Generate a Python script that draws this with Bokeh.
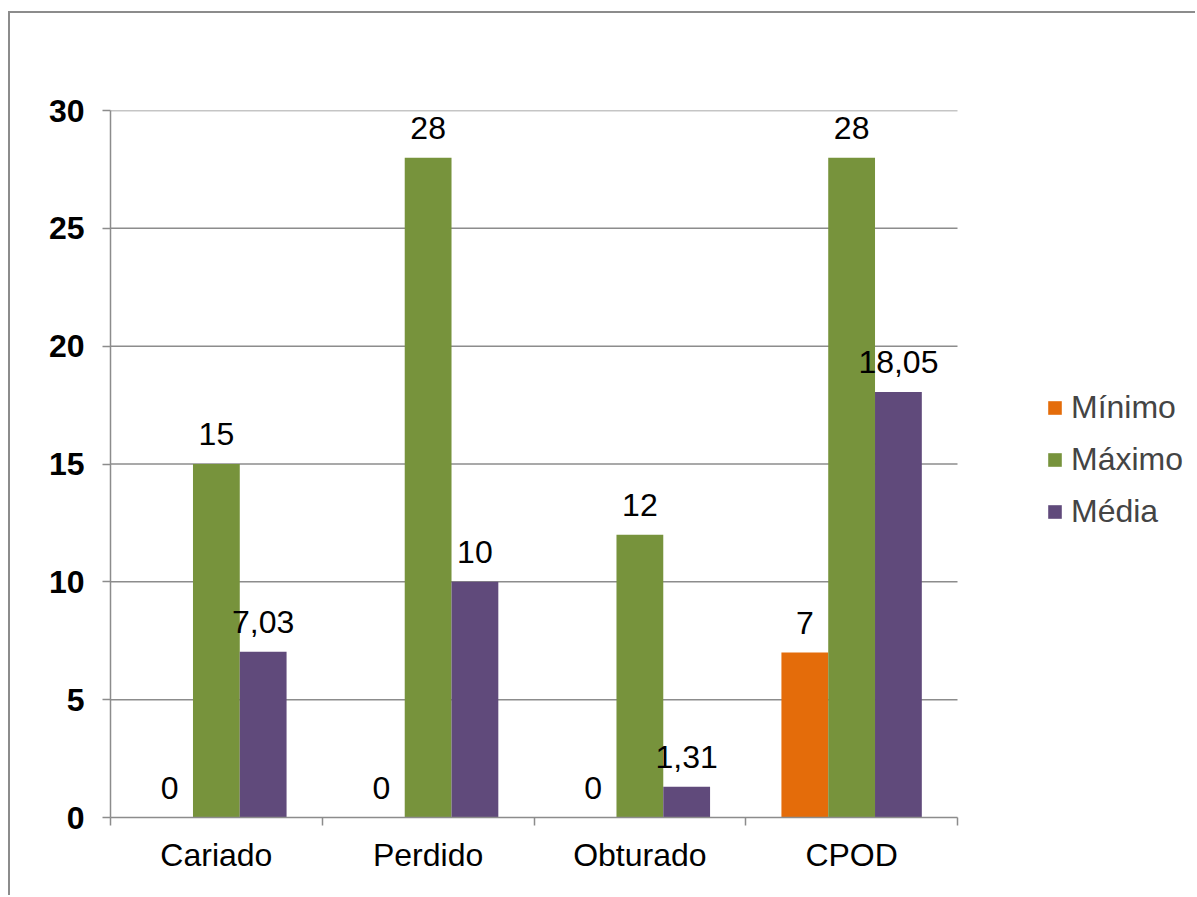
from bokeh.plotting import figure
from bokeh.models import Range1d, FixedTicker, ColumnDataSource, Legend, LegendItem
from bokeh.embed import file_html
from bokeh.resources import INLINE
from bokeh.core.properties import value

categories = ["Cariado", "Perdido", "Obturado", "CPOD"]
series_names = ["Mínimo", "Máximo", "Média"]
minimo = [0, 0, 0, 7]
maximo = [15, 28, 12, 28]
media = [7.03, 10, 1.31, 18.05]
y_ticks = [0, 5, 10, 15, 20, 25, 30]
colors = ["#E46C0A", "#77933C", "#604A7B"]

FONT = "Liberation Sans"
FS = "32px"
BAR_W = 0.221
GRID = "#8c8c8c"

# layout: the frame spans the legend area too; category area is 847 of 1087 px
W, LEFT = 1187, 100
FRAME_W = W - LEFT
N = len(categories)
x_end = N * FRAME_W / 847.0

def fmt(v):
    return f"{v:g}".replace(".", ",")

p = figure(width=W, height=884, x_range=Range1d(0, x_end),
           y_range=Range1d(0, 30), output_backend="svg", toolbar_location=None,
           min_border_left=LEFT, min_border_top=97, min_border_right=0,
           min_border_bottom=80)
p.margin = (11, 0, 0, 8)
p.styles = {"border-left": "2px solid #8c8c8c", "border-top": "2px solid #8c8c8c"}
p.outline_line_color = None
p.background_fill_color = "white"
p.border_fill_color = "white"

# horizontal gridlines limited to the category area
gy = y_ticks[1:]
p.segment(x0=[0] * len(gy), x1=[N] * len(gy), y0=gy, y1=gy,
          line_color=GRID, line_width=1.5)

renderers = []
for k, (name, vals) in enumerate(zip(series_names, [minimo, maximo, media])):
    xs = [i + 0.5 + (k - 1) * BAR_W for i in range(N)]
    src = ColumnDataSource(dict(x=xs, top=vals, label=[fmt(v) for v in vals]))
    r = p.vbar(x="x", top="top", bottom=0, width=BAR_W, source=src,
               fill_color=colors[k], line_color=None)
    renderers.append(r)
    p.text(x="x", y="top", text="label", source=src, text_align="center",
           text_baseline="alphabetic", y_offset=-30, text_font=value(FONT),
           text_font_size=FS, text_color="black")

# axes
ya = p.yaxis[0]
ya.ticker = FixedTicker(ticks=y_ticks)
ya.axis_line_color = GRID
ya.axis_line_width = 1.5
ya.major_tick_line_color = GRID
ya.major_tick_line_width = 1.5
ya.major_tick_out = 8
ya.major_tick_in = 0
ya.minor_tick_line_color = None
ya.major_label_text_font = FONT
ya.major_label_text_font_size = FS
ya.major_label_text_font_style = "bold"
ya.major_label_text_color = "black"
ya.major_label_standoff = 18

xa = p.xaxis[0]
xa.bounds = (0, N)
xa.ticker = FixedTicker(ticks=[i + 0.5 for i in range(N)],
                        minor_ticks=list(range(N + 1)))
xa.major_label_overrides = {i + 0.5: c for i, c in enumerate(categories)}
xa.axis_line_color = GRID
xa.axis_line_width = 1.5
xa.major_tick_line_color = None
xa.major_tick_out = 0
xa.major_tick_in = 0
xa.minor_tick_line_color = GRID
xa.minor_tick_line_width = 1.5
xa.minor_tick_out = 8
xa.minor_tick_in = 0
xa.major_label_text_font = FONT
xa.major_label_text_font_size = FS
xa.major_label_text_color = "black"
xa.major_label_standoff = 11

p.xgrid.grid_line_color = None
p.ygrid.grid_line_color = None

legend = Legend(items=[LegendItem(label=n, renderers=[r]) for n, r in zip(series_names, renderers)],
                location=(936, 286), padding=0, margin=0, spacing=12, label_height=40,
                glyph_width=17, glyph_height=17, label_standoff=8,
                label_text_font=FONT, label_text_font_size=FS,
                border_line_color=None, background_fill_alpha=0)
p.add_layout(legend, "center")

open("out.html", "w").write(file_html(p, INLINE))
